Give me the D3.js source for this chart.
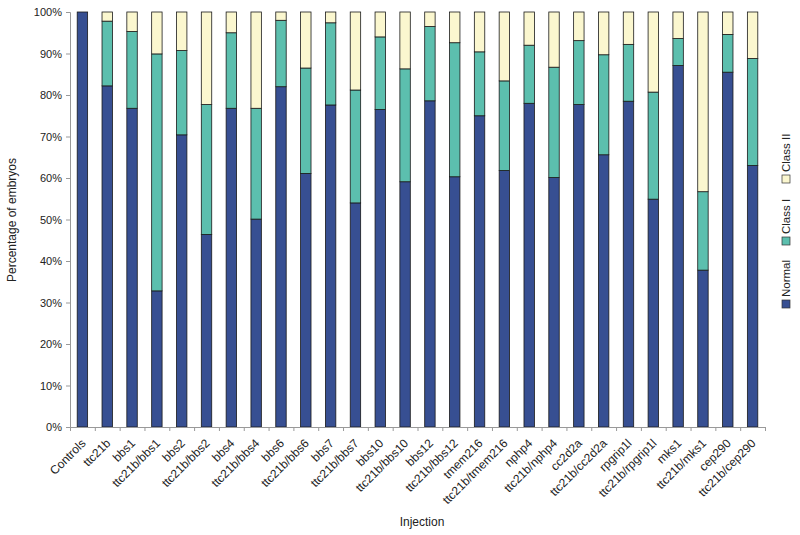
<!DOCTYPE html>
<html lang="en">
    <head>
        <meta charset="UTF-8" />
        <title>Percentage of embryos by injection</title>
        <script src="https://d3js.org/d3.v7.min.js"></script>
        <style>
            body { margin: 0; background: #fff; }
            text { font-family: "Liberation Sans", Arial, sans-serif; fill: #222; }
        </style>
    </head>
    <body>
        <svg width="800" height="535"></svg>

        <script>
            // data (percent of embryos)
            const categories = [
                "Controls", "ttc21b", "bbs1", "ttc21b/bbs1", "bbs2", "ttc21b/bbs2",
                "bbs4", "ttc21b/bbs4", "bbs6", "ttc21b/bbs6", "bbs7", "ttc21b/bbs7",
                "bbs10", "ttc21b/bbs10", "bbs12", "ttc21b/bbs12", "tmem216",
                "ttc21b/tmem216", "nphp4", "ttc21b/nphp4", "cc2d2a", "ttc21b/cc2d2a",
                "rpgrip1l", "ttc21b/rpgrip1l", "mks1", "ttc21b/mks1", "cep290",
                "ttc21b/cep290",
            ];
            const normal = [
                100, 82.2, 76.8, 32.8, 70.4, 46.4, 76.8, 50.1, 82.0, 61.1, 77.6, 54.0,
                76.5, 59.1, 78.6, 60.3, 75.0, 61.8, 78.0, 60.1, 77.7, 65.6, 78.5, 54.9,
                87.1, 37.8, 85.5, 63.0,
            ];
            const classI = [
                0, 15.6, 18.5, 57.1, 20.3, 31.3, 18.2, 26.7, 16.0, 25.4, 19.8, 27.2,
                17.5, 27.2, 17.9, 32.3, 15.4, 21.6, 14.0, 26.6, 15.4, 24.1, 13.7, 25.8,
                6.5, 18.9, 9.1, 25.8,
            ];
            const classII = [
                0, 2.2, 4.7, 10.1, 9.3, 22.3, 5.0, 23.2, 2.0, 13.5, 2.6, 18.8, 6.0,
                13.7, 3.5, 7.4, 9.6, 16.6, 8.0, 13.3, 6.9, 10.3, 7.8, 19.3, 6.4, 43.3,
                5.4, 11.2,
            ];
            const seriesNames = ["Normal", "Class I", "Class II"];
            const yTicks = d3.range(0, 1.01, 0.1);

            const colors = ["#374f92", "#5cbfae", "#fbf7cf"];

            const margin = { top: 12, left: 70 };
            const plotW = 695;
            const plotH = 415;

            const rows = categories.map((c, i) => ({
                name: c,
                "Normal": normal[i],
                "Class I": classI[i],
                "Class II": classII[i],
            }));

            const stacked = d3
                .stack()
                .keys(seriesNames)
                .offset(d3.stackOffsetExpand)(rows);

            const svg = d3.select("svg");
            const g = svg
                .append("g")
                .attr("transform", `translate(${margin.left},${margin.top})`);

            const x = d3.scaleBand().domain(categories).range([0, plotW]).paddingInner(0.58).paddingOuter(0.29);
            const xTickScale = d3.scaleLinear().domain([0, categories.length]).range([0, plotW]);
            const y = d3.scaleLinear().domain([0, 1]).range([plotH, 0]);

            // y axis
            const yAxis = g
                .append("g")
                .call(d3.axisLeft(y).tickValues(yTicks).tickFormat(d3.format(".0%")).tickSize(4).tickPadding(4));
            yAxis.selectAll("path, line").attr("stroke", "#999");
            yAxis.selectAll("text").style("font-size", "11px").attr("fill", "#222");

            // bars
            g.selectAll(".layer")
                .data(stacked)
                .enter()
                .append("g")
                .attr("class", "layer")
                .attr("fill", (d, i) => colors[i])
                .selectAll("rect")
                .data((d) => d.filter((p) => p[1] - p[0] > 0))
                .enter()
                .append("rect")
                .attr("x", (d) => x(d.data.name))
                .attr("width", x.bandwidth())
                .attr("y", (d) => y(d[1]))
                .attr("height", (d) => y(d[0]) - y(d[1]))
                .attr("stroke", "#1a1a1a")
                .attr("stroke-width", 0.8);

            // x axis with ticks between categories
            const xAxis = g
                .append("g")
                .attr("transform", `translate(0,${plotH})`)
                .call(d3.axisBottom(xTickScale).tickValues(d3.range(0, categories.length + 1)).tickFormat("").tickSize(4));
            xAxis.selectAll("path, line").attr("stroke", "#999");

            g.append("g")
                .selectAll("text")
                .data(categories)
                .enter()
                .append("text")
                .attr("text-anchor", "end")
                .attr("transform", (d) => `translate(${x(d) + x.bandwidth() / 2 + 4},${plotH + 17}) rotate(-45)`)
                .style("font-size", "12px")
                .text((d) => d);

            // axis titles
            svg.append("text")
                .attr("transform", "translate(16,220) rotate(-90)")
                .attr("text-anchor", "middle")
                .style("font-size", "12px")
                .text("Percentage of embryos");

            svg.append("text")
                .attr("x", 422)
                .attr("y", 526)
                .attr("text-anchor", "middle")
                .style("font-size", "12px")
                .text("Injection");

            // legend, rotated
            const legend = svg.append("g").attr("transform", "translate(790,310) rotate(-90)");
            const legendPos = [0, 63, 125];
            seriesNames.forEach((s, i) => {
                const item = legend.append("g").attr("transform", `translate(${legendPos[i]},0)`);
                item.append("rect")
                    .attr("x", 2)
                    .attr("y", -8)
                    .attr("width", 8)
                    .attr("height", 8)
                    .attr("fill", colors[i])
                    .attr("stroke", "#333")
                    .attr("stroke-width", 0.7);
                item.append("text")
                    .attr("x", 13)
                    .attr("y", 0)
                    .style("font-size", "11.5px")
                    .text(s);
            });
        </script>
    </body>
</html>
